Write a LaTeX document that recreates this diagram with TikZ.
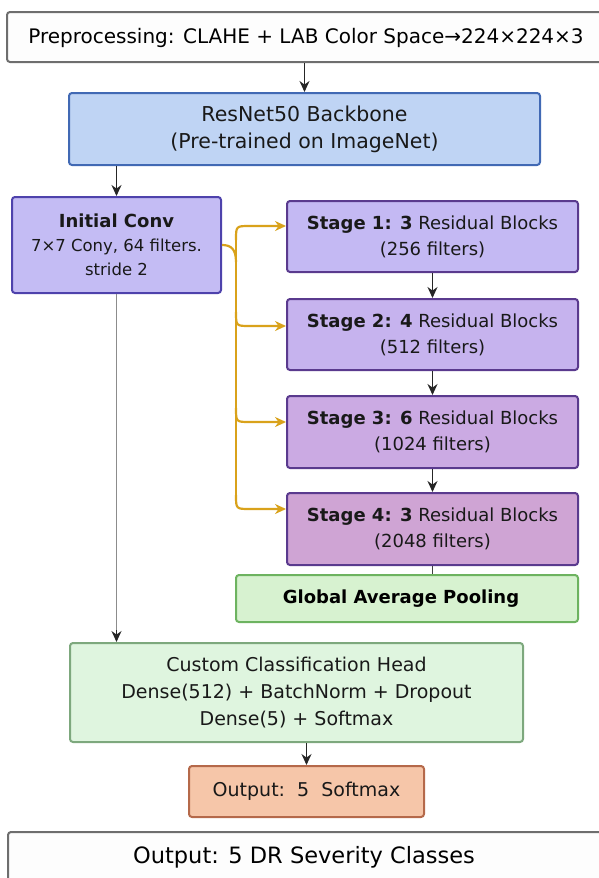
\documentclass[tikz,border=0pt]{standalone}
\usepackage{fontspec}
\setmainfont{DejaVu Sans}
\usetikzlibrary{arrows.meta}
\definecolor{topfill}{HTML}{FDFDFD}
\definecolor{topdraw}{HTML}{6E6E6E}
\definecolor{resfill}{HTML}{BFD4F4}
\definecolor{resdraw}{HTML}{4169B4}
\definecolor{icfill}{HTML}{C4BCF4}
\definecolor{icdraw}{HTML}{4E42AC}
\definecolor{sonefill}{HTML}{C4B9F3}
\definecolor{stwofill}{HTML}{C6B3EE}
\definecolor{sthreefill}{HTML}{CBAAE3}
\definecolor{sfourfill}{HTML}{CFA4D4}
\definecolor{sdraw}{HTML}{5A3A8E}
\definecolor{gapfill}{HTML}{D7F2D0}
\definecolor{gapdraw}{HTML}{6DB360}
\definecolor{headfill}{HTML}{DFF5DF}
\definecolor{headdraw}{HTML}{7DA87D}
\definecolor{outfill}{HTML}{F6C6A9}
\definecolor{outdraw}{HTML}{B5694A}
\definecolor{gold}{HTML}{D9A21B}
\begin{document}
\begin{tikzpicture}[x=1pt,y=-1pt,
  box/.style={draw, line width=2pt, rounded corners=3pt, align=center, inner sep=0pt, text=black!90},
  blk/.style={-{Stealth[length=11pt,width=10pt]}, line width=1.4pt, black!85},
  goldarrow/.style={-{Stealth[length=11pt,width=10pt]}, line width=2.2pt, gold},
  goldline/.style={line width=2.2pt, gold}]
\useasboundingbox (0,0) rectangle (598,878);

\node[box, fill=topfill, draw=topdraw, minimum width=603pt, minimum height=50pt] (top) at (308.5,37) {};
\node[font=\fontsize{20}{24}\selectfont] at (306,38) {Preprocessing: CLAHE + LAB Color Space→224×224×3};

\node[box, fill=resfill, draw=resdraw, minimum width=471pt, minimum height=72pt, font=\fontsize{20.5}{27}\selectfont] (res) at (304.5,129) {ResNet50 Backbone\\(Pre-trained on ImageNet)};

\node[box, fill=icfill, draw=icdraw, minimum width=209pt, minimum height=96pt, font=\fontsize{16.5}{24}\selectfont] (ic) at (116.5,245) {{\fontsize{18}{24}\selectfont\bfseries Initial Conv}\\7×7 Cony, 64 filters.\\stride 2};

\node[box, fill=sonefill, draw=sdraw, minimum width=291pt, minimum height=71pt, font=\fontsize{18}{26}\selectfont] (s1) at (432.5,236.5) {\textbf{Stage 1: 3} Residual Blocks\\(256 filters)};
\node[box, fill=stwofill, draw=sdraw, minimum width=291pt, minimum height=71pt, font=\fontsize{18}{26}\selectfont] (s2) at (432.5,334.5) {\textbf{Stage 2: 4} Residual Blocks\\(512 filters)};
\node[box, fill=sthreefill, draw=sdraw, minimum width=291pt, minimum height=72pt, font=\fontsize{18}{26}\selectfont] (s3) at (432.5,432) {\textbf{Stage 3: 6} Residual Blocks\\(1024 filters)};
\node[box, fill=sfourfill, draw=sdraw, minimum width=291pt, minimum height=72pt, font=\fontsize{18}{26}\selectfont] (s4) at (432.5,529) {\textbf{Stage 4: 3} Residual Blocks\\(2048 filters)};

\node[box, fill=gapfill, draw=gapdraw, minimum width=342pt, minimum height=47pt] (gap) at (407,598.5) {};
\node[font=\fontsize{18}{24}\selectfont\bfseries] at (401,599) {Global Average Pooling};

\node[box, fill=headfill, draw=headdraw, minimum width=453pt, minimum height=99pt, font=\fontsize{19}{27}\selectfont] (head) at (296.5,692.5) {Custom Classification Head\\Dense(512) + BatchNorm + Dropout\\Dense(5) + Softmax};

\node[box, fill=outfill, draw=outdraw, minimum width=235pt, minimum height=51pt, font=\fontsize{19}{24}\selectfont] (out) at (306.5,791.5) {Output:\ \ 5\ \ Softmax};

\node[box, fill=topfill, draw=topdraw, minimum width=602pt, minimum height=60pt] (bot) at (309,862) {};
\node[font=\fontsize{22.5}{26}\selectfont] at (304,857) {Output: 5 DR Severity Classes};

% black connectors
\draw[blk] (res.north |- top.south) -- (res.north);
\draw[blk] (ic.north |- res.south) -- (ic.north);
\draw[blk] (s1.south) -- (s2.north);
\draw[blk] (s2.south) -- (s3.north);
\draw[blk] (s3.south) -- (s4.north);
\draw[line width=1.4pt, black!75] (s4.south) -- (s4.south |- gap.north);
\draw[line width=1.6pt, black!45] (ic.south) -- ([yshift=10pt]ic.south |- head.north);
\draw[blk] ([yshift=12pt]ic.south |- head.north) -- (ic.south |- head.north);
\draw[blk] (out.north |- head.south) -- (out.north);

% golden connectors
\coordinate (tA) at (236,240);
\coordinate (tB) at (236,495);
\draw[goldline] (ic.east) .. controls (231,245) and (236,249) .. (236,262);
\draw[goldline] (tA) -- (tB);
\draw[goldarrow] (tA) .. controls (236,226) .. (250,226) -- (s1.west |- 0,226);
\draw[goldarrow] (236,312) .. controls (236,326) .. (250,326) -- (s2.west |- 0,326);
\draw[goldarrow] (236,408) .. controls (236,422) .. (250,422) -- (s3.west |- 0,422);
\draw[goldarrow] (tB) .. controls (236,509) .. (250,509) -- (s4.west |- 0,509);
\end{tikzpicture}
\end{document}
